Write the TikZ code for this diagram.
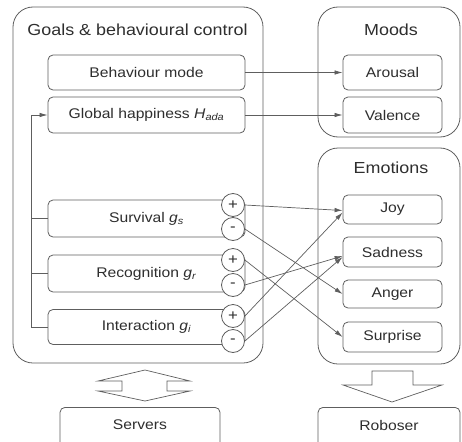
\documentclass[tikz,border=0pt]{standalone}
\usepackage{fontspec}
\setmainfont[FakeStretch=1.12]{Liberation Sans}
\usetikzlibrary{arrows.meta}
\definecolor{ln}{HTML}{5E5E5E}
\definecolor{tx}{HTML}{2E2E2E}
\tikzset{
  container/.style={draw=ln, line width=0.8pt, rounded corners=20pt, inner sep=0pt},
  itembox/.style={draw=ln, line width=0.8pt, rounded corners=5pt, fill=white, inner sep=0pt, text=tx, font=\fontsize{14}{16}\selectfont},
  titletext/.style={text=tx, font=\fontsize{16}{18}\selectfont, inner sep=0pt},
  sign/.style={draw=ln, line width=0.8pt, circle, fill=white, minimum size=23pt, inner sep=0pt, text=tx, font=\fontsize{15}{16}\selectfont},
  conn/.style={draw=ln, line width=0.7pt, -{Latex[length=8pt,width=4.5pt]}},
  plain/.style={draw=ln, line width=0.7pt},
  blockarrow/.style={draw=ln, line width=0.7pt, line join=miter}
}
\newcommand{\sub}[1]{\textsubscript{\textit{#1}}}
\begin{document}
\begin{tikzpicture}[x=1pt,y=-1pt]
\useasboundingbox (0,0) rectangle (462,441);
\clip (0,0) rectangle (462,441);
% containers
\node[container, minimum width=250pt, minimum height=356pt] (goals) at (138,185) {};
\node[container, minimum width=142pt, minimum height=130pt] (moods) at (389,72) {};
\node[container, minimum width=142pt, minimum height=216pt] (emos) at (389,256) {};
\node[titletext] (goalsT) at (137.5,30) {Goals \& behavioural control};
\node[titletext] (moodsT) at (391,30) {Moods};
\node[titletext] (emosT) at (391,168) {Emotions};
% left items
\node[itembox, minimum width=197pt, minimum height=35pt] (behav) at (146.5,72.5) {Behaviour mode};
\node[itembox, minimum width=197pt, minimum height=36pt] (glob) at (146.5,115) {Global happiness \textit{H}\sub{ada}};
\node[itembox, minimum width=197pt, minimum height=37pt] (surv) at (146.5,218.5) {Survival \textit{g}\sub{s}};
\node[itembox, minimum width=197pt, minimum height=37pt] (recog) at (146.5,273.5) {Recognition \textit{g}\sub{r}};
\node[itembox, minimum width=197pt, minimum height=35pt] (inter) at (146.5,327) {Interaction \textit{g}\sub{i}};
% signs
\node[sign] (sp) at (233,205) {+};
\node[sign] (sm) at (233,229) {-};
\node[sign] (rp) at (233,260) {+};
\node[sign] (rm) at (233,285) {-};
\node[sign] (ip) at (233,316) {+};
\node[sign] (im) at (233,341) {-};
% right items
\node[itembox, minimum width=99pt, minimum height=35pt] (arousal) at (392.5,72.5) {Arousal};
\node[itembox, minimum width=99pt, minimum height=36pt] (valence) at (392.5,115) {Valence};
\node[itembox, minimum width=99pt, minimum height=29pt] (joy) at (392.5,209.5) {Joy};
\node[itembox, minimum width=99pt, minimum height=30pt] (sad) at (392.5,252) {Sadness};
\node[itembox, minimum width=99pt, minimum height=28pt] (anger) at (392.5,294) {Anger};
\node[itembox, minimum width=99pt, minimum height=30pt] (surp) at (392.5,337) {Surprise};
% bottom boxes (cut off)
\node[itembox, minimum width=160pt, minimum height=50pt, anchor=north] (servers) at (140,407) {};
\node[itembox, minimum width=142pt, minimum height=50pt, anchor=north] (roboser) at (389,407) {};
\node[text=tx, font=\fontsize{14}{16}\selectfont] (serversT) at (140,425) {Servers};
\node[text=tx, font=\fontsize{14}{16}\selectfont] (roboserT) at (389,425) {Roboser};
% feedback
\coordinate (fb) at (31,0);
\draw[conn] (inter.west) -| (fb |- glob.west) -- (glob.west);
\draw[plain] (surv.west) -- (fb |- surv.west);
\draw[plain] (recog.west) -- (fb |- recog.west);
% mood arrows
\draw[conn] (behav.east) -- (arousal.west);
\draw[conn] (glob.east) -- (valence.west);
% emotion arrows
\draw[conn] (sp.east) -- ([yshift=-1pt]joy.west);
\draw[conn] (sm.east) -- (anger.west);
\draw[conn] (rp.east) -- (surp.west);
\draw[conn] (rm.east) -- ([yshift=-4pt]sad.west);
\draw[conn] (ip.east) -- ([yshift=-3pt]joy.west);
\draw[conn] (im.east) -- ([yshift=-5pt]sad.west);
% block arrows
\draw[blockarrow] (145,370) -- (190,381) -- (167,381) -- (167,391) -- (190,391) -- (145,401) -- (98,391) -- (122,391) -- (122,381) -- (98,381) -- cycle;
\draw[blockarrow] (372,371) -- (413,371) -- (413,385) -- (442,385) -- (392,402) -- (343,385) -- (372,385) -- cycle;
\end{tikzpicture}
\end{document}
